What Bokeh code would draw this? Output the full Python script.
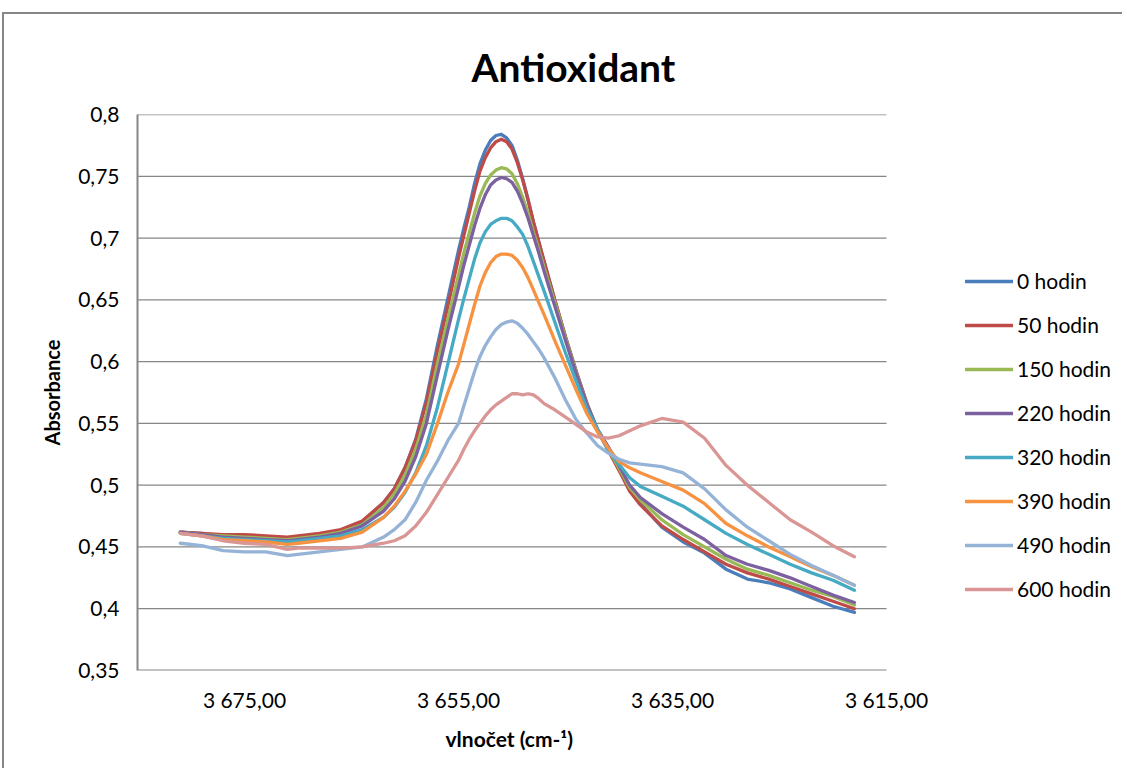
from bokeh.plotting import figure
from bokeh.models import Range1d, FixedTicker, Legend, LegendItem, Title
from bokeh.embed import file_html
from bokeh.resources import INLINE

wavenumber = [3681, 3679, 3677, 3675, 3673, 3671, 3670, 3668, 3666, 3664, 3662, 3661, 3660, 3659, 3658, 3657,
              3656, 3655, 3654.5, 3654, 3653.5, 3653, 3652.5, 3652, 3651.5, 3651, 3650.5, 3650, 3649.5, 3649,
              3648.5, 3648, 3647.5, 3647, 3646, 3645, 3644, 3643,
              3642, 3641, 3640, 3639, 3638, 3636, 3634, 3632, 3630, 3628, 3626, 3624, 3622, 3620, 3618]

h0 = [0.462, 0.461, 0.459, 0.459, 0.458, 0.456, 0.458, 0.460, 0.463, 0.470, 0.486, 0.497, 0.514, 0.537, 0.570, 0.612,
      0.651, 0.690, 0.708, 0.725, 0.744, 0.760, 0.771, 0.779, 0.783, 0.784, 0.781, 0.775, 0.763, 0.748,
      0.731, 0.713, 0.697, 0.681, 0.650, 0.620, 0.592, 0.566,
      0.545, 0.530, 0.513, 0.497, 0.485, 0.466, 0.454, 0.445, 0.432, 0.424, 0.421, 0.416, 0.409, 0.402, 0.397]
h50 = [0.462, 0.461, 0.460, 0.460, 0.459, 0.458, 0.459, 0.461, 0.464, 0.471, 0.486, 0.497, 0.514, 0.536, 0.567, 0.607,
       0.645, 0.684, 0.702, 0.720, 0.738, 0.754, 0.765, 0.773, 0.778, 0.780, 0.778, 0.772, 0.761, 0.747,
       0.731, 0.713, 0.697, 0.681, 0.650, 0.620, 0.592, 0.566,
       0.544, 0.528, 0.512, 0.495, 0.484, 0.467, 0.456, 0.446, 0.436, 0.429, 0.424, 0.418, 0.412, 0.406, 0.400]
h150 = [0.462, 0.460, 0.459, 0.458, 0.457, 0.456, 0.457, 0.459, 0.462, 0.468, 0.482, 0.493, 0.508, 0.529, 0.557, 0.597,
        0.634, 0.670, 0.688, 0.704, 0.720, 0.734, 0.744, 0.751, 0.755, 0.757, 0.756, 0.752, 0.744, 0.733,
        0.720, 0.705, 0.691, 0.676, 0.648, 0.619, 0.591, 0.565,
        0.544, 0.529, 0.514, 0.498, 0.488, 0.472, 0.460, 0.450, 0.440, 0.432, 0.427, 0.421, 0.415, 0.410, 0.403]
h220 = [0.462, 0.460, 0.458, 0.457, 0.456, 0.455, 0.456, 0.458, 0.461, 0.467, 0.479, 0.489, 0.503, 0.523, 0.550, 0.588,
        0.625, 0.660, 0.678, 0.694, 0.710, 0.724, 0.735, 0.743, 0.747, 0.749, 0.748, 0.745, 0.738, 0.728,
        0.716, 0.702, 0.688, 0.673, 0.645, 0.617, 0.590, 0.565,
        0.545, 0.531, 0.516, 0.500, 0.490, 0.477, 0.466, 0.456, 0.443, 0.436, 0.431, 0.425, 0.418, 0.411, 0.405]
h320 = [0.461, 0.459, 0.457, 0.456, 0.455, 0.454, 0.455, 0.457, 0.459, 0.464, 0.474, 0.482, 0.494, 0.510, 0.532, 0.562,
        0.598, 0.634, 0.651, 0.667, 0.683, 0.696, 0.705, 0.711, 0.714, 0.716, 0.716, 0.714, 0.709, 0.703,
        0.693, 0.681, 0.669, 0.657, 0.632, 0.607, 0.584, 0.562,
        0.545, 0.528, 0.517, 0.506, 0.499, 0.491, 0.483, 0.472, 0.461, 0.452, 0.444, 0.436, 0.429, 0.423, 0.415]
h390 = [0.461, 0.459, 0.456, 0.455, 0.454, 0.452, 0.453, 0.455, 0.457, 0.462, 0.474, 0.483, 0.495, 0.509, 0.525, 0.549,
        0.575, 0.598, 0.614, 0.630, 0.646, 0.661, 0.672, 0.680, 0.685, 0.687, 0.687, 0.686, 0.682, 0.676,
        0.668, 0.658, 0.648, 0.638, 0.617, 0.597, 0.577, 0.558,
        0.543, 0.530, 0.519, 0.514, 0.510, 0.503, 0.496, 0.485, 0.469, 0.459, 0.450, 0.442, 0.434, 0.427, 0.419]
h490 = [0.453, 0.451, 0.447, 0.446, 0.446, 0.443, 0.444, 0.446, 0.448, 0.450, 0.458, 0.464, 0.472, 0.486, 0.504, 0.519,
        0.536, 0.550, 0.564, 0.578, 0.592, 0.604, 0.613, 0.620, 0.626, 0.630, 0.632, 0.633, 0.631, 0.627,
        0.622, 0.616, 0.610, 0.603, 0.587, 0.569, 0.553, 0.542,
        0.532, 0.526, 0.521, 0.518, 0.517, 0.515, 0.510, 0.497, 0.480, 0.466, 0.455, 0.444, 0.435, 0.427, 0.419]
h600 = [0.461, 0.459, 0.455, 0.453, 0.452, 0.448, 0.449, 0.449, 0.449, 0.450, 0.453, 0.455, 0.459, 0.467, 0.478, 0.492,
        0.506, 0.520, 0.529, 0.537, 0.544, 0.550, 0.556, 0.561, 0.565, 0.568, 0.571, 0.574, 0.574, 0.573,
        0.574, 0.573, 0.570, 0.566, 0.561, 0.555, 0.549, 0.543,
        0.539, 0.538, 0.540, 0.544, 0.548, 0.554, 0.551, 0.538, 0.516, 0.500, 0.486, 0.472, 0.462, 0.451, 0.442]

series_names = ["0 hodin", "50 hodin", "150 hodin", "220 hodin", "320 hodin", "390 hodin", "490 hodin", "600 hodin"]
series_values = [h0, h50, h150, h220, h320, h390, h490, h600]
colors = ["#4A7EBB", "#BE4B48", "#98B954", "#7D60A0", "#46AAC5", "#F69240", "#95B3D7", "#D99694"]

y_ticks = [0.35, 0.4, 0.45, 0.5, 0.55, 0.6, 0.65, 0.7, 0.75, 0.8]
y_labels = ["0,35", "0,4", "0,45", "0,5", "0,55", "0,6", "0,65", "0,7", "0,75", "0,8"]
x_ticks = [3675, 3655, 3635, 3615]
x_labels = ["3 675,00", "3 655,00", "3 635,00", "3 615,00"]
x_axis_min, x_axis_max = 3615, 3685

FONT = "Lato"
GRAY = "#868686"

W, H = 1120, 756
LEFT, TOP, BOTTOM = 133, 100, 100
AXIS_PX = 749  # pixel length of the axis from x_axis_max to x_axis_min
frame_w = W - LEFT
x_end = x_axis_max - (x_axis_max - x_axis_min) * frame_w / AXIS_PX

p = figure(width=W, height=H, output_backend="svg", toolbar_location=None,
           x_range=Range1d(x_axis_max, x_end), y_range=Range1d(y_ticks[0], y_ticks[-1]),
           min_border_left=LEFT, min_border_right=0, min_border_top=TOP, min_border_bottom=BOTTOM)
p.margin = (12, 0, 0, 2)
p.styles = {"border-left": "2px solid " + GRAY, "border-top": "2px solid " + GRAY}
p.outline_line_color = None
p.background_fill_color = "white"
p.border_fill_color = "white"

p.title.text = "Antioxidant"
p.title.align = "left"
p.title.offset = 334
p.title.standoff = 50
p.title.text_font = FONT
p.title.text_font_size = "39px"
p.title.text_font_style = "bold"
p.title.text_color = "black"

p.xgrid.grid_line_color = None
p.ygrid.grid_line_color = None

# horizontal gridlines and bottom axis line limited to the axis extent
p.segment(x0=[x_axis_max] * len(y_ticks), x1=[x_axis_min] * len(y_ticks), y0=y_ticks, y1=y_ticks,
          line_color=GRAY, line_width=[2] + [1.3] * (len(y_ticks) - 1))

p.yaxis.ticker = FixedTicker(ticks=y_ticks)
p.yaxis.major_label_overrides = {t: l for t, l in zip(y_ticks, y_labels)}
p.xaxis.ticker = FixedTicker(ticks=x_ticks)
p.xaxis.major_label_overrides = {t: l for t, l in zip(x_ticks, x_labels)}

for ax in (p.xaxis[0], p.yaxis[0]):
    ax.axis_line_color = GRAY
    ax.axis_line_width = 2
    ax.major_tick_line_color = None
    ax.minor_tick_line_color = None
    ax.major_tick_out = 0
    ax.major_tick_in = 0
    ax.minor_tick_out = 0
    ax.minor_tick_in = 0
    ax.major_label_text_font = FONT
    ax.major_label_text_font_size = "21px"
    ax.major_label_text_color = "black"
    ax.axis_label_text_font = FONT
    ax.axis_label_text_font_size = "20px"
    ax.axis_label_text_font_style = "bold"
    ax.axis_label_text_color = "black"
p.xaxis.axis_line_color = None

p.yaxis.axis_label = "Absorbance"
p.yaxis.major_label_standoff = 18
p.yaxis.axis_label_standoff = 11
p.xaxis.major_label_standoff = 16

x_title = Title(text="vlnočet (cm-¹)", align="left", offset=308, standoff=22, vertical_align="top",
                text_font=FONT, text_font_size="21px", text_font_style="bold", text_color="black")
p.add_layout(x_title, "below")

items = []
for name, vals, col in zip(series_names, series_values, colors):
    r = p.line(wavenumber, vals, line_color=col, line_width=3.3, line_join="round", line_cap="round")
    items.append(LegendItem(label=name, renderers=[r]))

legend = Legend(items=items, location=(828, 69), orientation="vertical",
                glyph_width=48, glyph_height=22, label_height=22, spacing=19,
                label_standoff=4, padding=0, margin=0,
                label_text_font=FONT, label_text_font_size="21px", label_text_color="black",
                border_line_color=None, background_fill_alpha=0)
p.add_layout(legend, "center")

open("out.html", "w").write(file_html(p, INLINE))
